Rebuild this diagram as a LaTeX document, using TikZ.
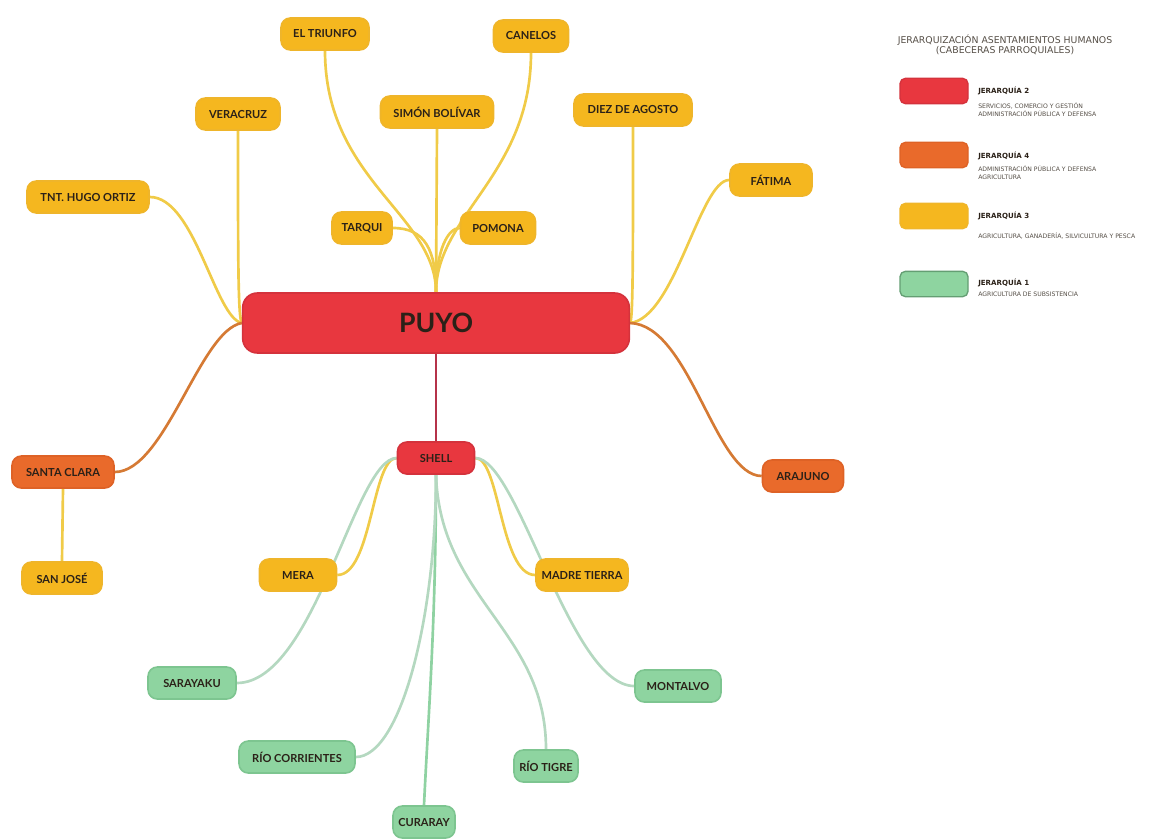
\documentclass[tikz,border=0pt]{standalone}
\usepackage{fontspec}
\setmainfont{Lato}
\newfontfamily\legfont{DejaVu Sans}
\usetikzlibrary{backgrounds}
\definecolor{yelF}{HTML}{F5B71F}
\definecolor{yelD}{HTML}{EFB52A}
\definecolor{orF}{HTML}{E96A2B}
\definecolor{orD}{HTML}{DE6226}
\definecolor{redF}{HTML}{E8373F}
\definecolor{redD}{HTML}{D4323C}
\definecolor{grF}{HTML}{8ED4A0}
\definecolor{grD}{HTML}{7DC590}
\definecolor{txt}{HTML}{2B2118}
\definecolor{yelL}{HTML}{F0CB48}
\definecolor{orL}{HTML}{D57A34}
\definecolor{grL}{HTML}{B4D8C0}
\definecolor{grL2}{HTML}{8FD2A2}
\definecolor{redL}{HTML}{B5334A}
\tikzset{
  nd/.style={rounded corners=7pt, minimum height=24pt, inner xsep=3pt, line width=1.2pt,
     font=\fontsize{8.3}{9}\selectfont\bfseries, text=txt},
  wd/.style={minimum width=#1*0.75pt},
  yel/.style={nd, fill=yelF, draw=yelD},
  ora/.style={nd, fill=orF, draw=orD},
  rdn/.style={nd, fill=redF, draw=redD},
  grn/.style={nd, fill=grF, draw=grD},
  ly/.style={draw=yelL, line width=2pt},
  lo/.style={draw=orL, line width=2pt},
  lg/.style={draw=grL, line width=2pt},
  lg2/.style={draw=grL2, line width=2pt},
  lr/.style={draw=redL, line width=2pt},
  sw/.style={rounded corners=4pt, minimum width=51pt, minimum height=19pt, line width=1pt},
  lgt/.style={anchor=west, inner sep=0pt, font=\legfont\fontsize{5.3}{6}\selectfont\bfseries, text=txt},
  lgd/.style={anchor=north west, inner sep=0pt, align=left, font=\legfont\fontsize{4.6}{6}\selectfont, text=txt!80}
}
\begin{document}
\begin{tikzpicture}[x=0.75pt, y=-0.75pt]
\useasboundingbox (0,0) rectangle (1151,838);
% nodes
\node[rdn, minimum width=290pt, minimum height=45pt, rounded corners=11pt, font=\fontsize{20}{22}\selectfont\bfseries] (puyo) at (436,323) {PUYO};
\node[yel, wd=88] (triunfo) at (325,34) {EL TRIUNFO};
\node[yel, wd=75] (canelos) at (531,36) {CANELOS};
\node[yel, wd=84] (veracruz) at (238,114) {VERACRUZ};
\node[yel, wd=113] (simon) at (437,112) {SIMÓN BOLÍVAR};
\node[yel, wd=118] (diez) at (633,110) {DIEZ DE AGOSTO};
\node[yel, wd=82] (fatima) at (771,180) {FÁTIMA};
\node[yel, wd=122] (hugo) at (88,197) {TNT. HUGO ORTIZ};
\node[yel, wd=60] (tarqui) at (362,228) {TARQUI};
\node[yel, wd=75] (pomona) at (498,228) {POMONA};
\node[rdn, wd=77] (shell) at (436,458) {SHELL};
\node[ora, wd=102] (santa) at (63,472) {SANTA CLARA};
\node[ora, wd=81] (arajuno) at (803,476) {ARAJUNO};
\node[yel, wd=80] (sanjose) at (62,578) {SAN JOSÉ};
\node[yel, wd=77] (mera) at (298,575) {MERA};
\node[yel, wd=92] (madre) at (582,575) {MADRE TIERRA};
\node[grn, wd=88] (sarayaku) at (192,683) {SARAYAKU};
\node[grn, wd=86] (montalvo) at (678,686) {MONTALVO};
\node[grn, wd=116] (corrientes) at (297,757) {RÍO CORRIENTES};
\node[grn, wd=64] (tigre) at (546,766) {RÍO TIGRE};
\node[grn, wd=62] (curaray) at (424,822) {CURARAY};
% connectors
\begin{scope}[on background layer]
\draw[ly] (hugo.east) .. controls (195,197) and (215,318) .. (puyo.west);
\draw[ly] (veracruz.south) .. controls (238,260) and (238,318) .. (puyo.west);
\draw[lo] (santa.east) .. controls (165,472) and (200,330) .. (puyo.west);
\draw[ly] (santa.south) -- (sanjose.north);
\draw[ly] (triunfo.south) .. controls (325,180) and (436,215) .. (puyo.north);
\draw[ly] (canelos.south) .. controls (531,175) and (436,215) .. (puyo.north);
\draw[ly] (simon.south) -- (puyo.north);
\draw[ly] (tarqui.east) .. controls (425,228) and (436,250) .. (puyo.north);
\draw[ly] (pomona.west) .. controls (448,228) and (436,250) .. (puyo.north);
\draw[ly] (diez.south) .. controls (633,260) and (633,318) .. (puyo.east);
\draw[ly] (fatima.west) .. controls (700,180) and (675,318) .. (puyo.east);
\draw[lo] (arajuno.west) .. controls (715,476) and (690,325) .. (puyo.east);
\draw[lr] (puyo.south) -- (shell.north);
\draw[ly] (shell.west) .. controls (372,458) and (372,575) .. (mera.east);
\draw[lg] (shell.west) .. controls (355,458) and (315,683) .. (sarayaku.east);
\draw[ly] (shell.east) .. controls (500,458) and (500,575) .. (madre.west);
\draw[lg] (shell.east) .. controls (518,458) and (570,686) .. (montalvo.west);
\draw[lg2] (shell.south) .. controls (436,620) and (428,720) .. (curaray.north);
\draw[lg] (shell.south) .. controls (436,620) and (400,757) .. (corrientes.east);
\draw[lg] (shell.south) .. controls (440,600) and (546,630) .. (tigre.north);
\end{scope}
% legend
\node[font=\legfont\fontsize{7}{7.8}\selectfont, text=txt!80, align=center] (ltitle) at (1005,45) {JERARQUIZACIÓN ASENTAMIENTOS HUMANOS\\(CABECERAS PARROQUIALES)};
\node[sw, fill=redF, draw=redD] (sw1) at (934,91) {};
\node[sw, fill=orF, draw=orD] (sw2) at (934,155) {};
\node[sw, fill=yelF, draw=yelD] (sw3) at (934,216) {};
\node[sw, fill=grF, draw=grD!80!black] (sw4) at (934,284) {};
\node[lgt] (l1) at (978,91) {JERARQUÍA 2};
\node[lgd] (d1) at (978,103) {SERVICIOS, COMERCIO Y GESTIÓN\\ADMINISTRACIÓN PÚBLICA Y DEFENSA};
\node[lgt] (l2) at (978,156) {JERARQUÍA 4};
\node[lgd] (d2) at (978,166) {ADMINISTRACIÓN PÚBLICA Y DEFENSA\\AGRICULTURA};
\node[lgt] (l3) at (978,216) {JERARQUÍA 3};
\node[lgd] (d3) at (978,233) {AGRICULTURA, GANADERÍA, SILVICULTURA Y PESCA};
\node[lgt] (l4) at (978,283) {JERARQUÍA 1};
\node[lgd] (d4) at (978,292) {AGRICULTURA DE SUBSISTENCIA};
\end{tikzpicture}
\end{document}
